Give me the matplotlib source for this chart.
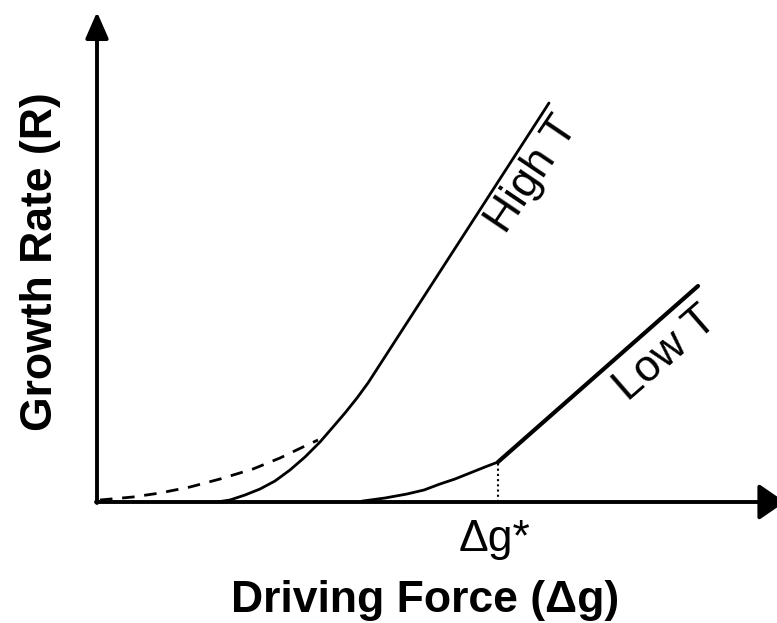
import matplotlib
matplotlib.use("Agg")
import matplotlib.pyplot as plt

plt.rcParams['font.family'] = ['Liberation Sans', 'DejaVu Sans']

# curves (driving force, growth rate)
high_x = [120, 133, 148, 163, 178, 193, 208, 223, 236, 248, 260, 271, 452]
high_y = [0, 2, 7, 13, 21, 32, 45, 60, 75, 89, 104, 119, 399]

dash_x = [3, 36, 63, 93, 123, 156, 183, 208, 221]
dash_y = [2, 5, 9, 15, 23, 33, 44, 56, 62]

low_curve_x = [266, 288, 310, 327, 343, 358, 373, 388, 401]
low_curve_y = [1, 4, 8, 12, 18, 23, 29, 35, 40]
low_line_x = [401, 601]
low_line_y = [40, 216]

dg_star = 401
labels = {"high": "High T", "low": "Low T", "star": "\u0394g*"}

fig = plt.figure(figsize=(7.77, 6.23), dpi=100)
ax = fig.add_axes([97 / 777, 121 / 623, 680 / 777, 490 / 623])
ax.set_xlim(0, 680)
ax.set_ylim(0, 490)
ax.axis('off')

# axes with arrows
ax.annotate('', xy=(0, 490), xytext=(0, -1),
            arrowprops=dict(arrowstyle='-|>,head_length=0.8,head_width=0.35',
                            lw=2.8, color='black', mutation_scale=20,
                            shrinkA=0, shrinkB=0), annotation_clip=False)
ax.annotate('', xy=(688, 0), xytext=(-1, 0),
            arrowprops=dict(arrowstyle='-|>,head_length=0.8,head_width=0.55',
                            lw=2.8, color='black', mutation_scale=20,
                            shrinkA=0, shrinkB=0), annotation_clip=False)

ax.plot(high_x, high_y, color='black', lw=2.0, solid_capstyle='round',
        solid_joinstyle='round')
ax.plot(dash_x, dash_y, color='black', lw=2.0, linestyle=(0, (4.5, 3.5)))
ax.plot(low_curve_x, low_curve_y, color='black', lw=2.0,
        solid_joinstyle='round')
ax.plot(low_line_x, low_line_y, color='black', lw=3.0, solid_capstyle='round')
ax.plot([dg_star, dg_star], [0, low_curve_y[-1]], color='black', lw=1.5,
        linestyle=(0, (1, 1.5)))

ax.text(435, 327, labels["high"], fontsize=32, rotation=56,
        rotation_mode='anchor', ha='center', va='center')
ax.text(569, 148, labels["low"], fontsize=32, rotation=41,
        rotation_mode='anchor', ha='center', va='center')
ax.text(397, -49, labels["star"], fontsize=32, ha='center', va='baseline',
        clip_on=False)

ax.text(328, -110, "Driving Force (\u0394g)", fontsize=32, fontweight='bold',
        ha='center', va='baseline', clip_on=False)
ax.text(-45, 240, "Growth Rate (R)", fontsize=32, fontweight='bold',
        rotation=90, rotation_mode='anchor', ha='center', va='baseline',
        clip_on=False)

fig.savefig("out.png", dpi=100)
